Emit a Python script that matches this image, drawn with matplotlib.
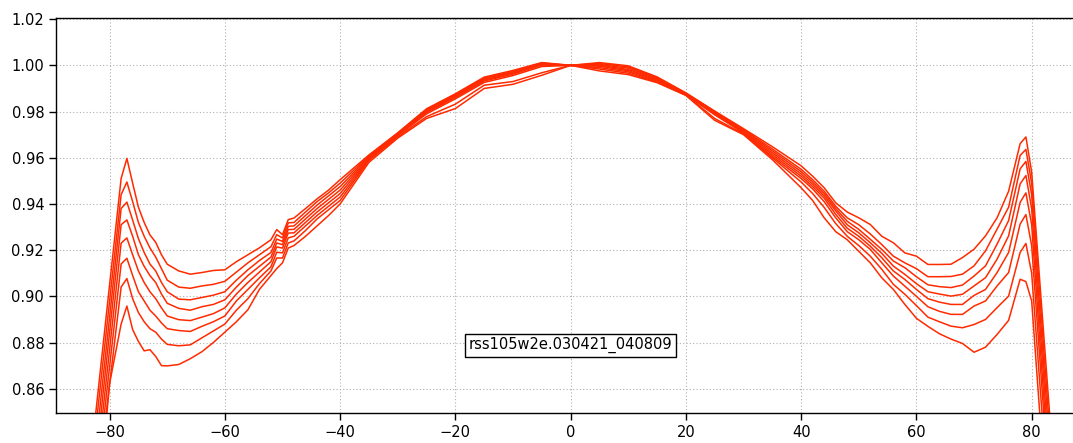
import matplotlib
matplotlib.use('Agg')
import matplotlib.pyplot as plt

# angle grid (deg)
x = [-84, -80, -78, -77, -76, -75, -74, -73, -72, -71, -70, -68, -66, -64, -62, -60,
     -58, -56, -54, -52, -51, -50, -49, -48, -46, -44, -42, -40,
     -35, -30, -25, -20, -15, -10, -5, 0, 5, 10, 15, 20, 25, 30, 35,
     40, 42, 44, 46, 48, 50, 52, 54, 56, 58, 60, 62, 64, 66, 68, 70, 72, 74, 76, 78, 79, 80, 84]

c0 = [0.8125, 0.905, 0.951, 0.9597, 0.949, 0.9386, 0.932, 0.9266, 0.9234, 0.918, 0.9139, 0.911, 0.9096, 0.9103, 0.9112, 0.9115,
      0.915, 0.918, 0.921, 0.9245, 0.9289, 0.9267, 0.9332, 0.9339, 0.938, 0.9422, 0.946, 0.9505,
      0.9612, 0.9708, 0.9812, 0.9877, 0.9949, 0.9978, 1.0012, 1.0, 1.0012, 0.9998, 0.995, 0.9881, 0.9802, 0.9726, 0.9648,
      0.9565, 0.952, 0.947, 0.9405, 0.9365, 0.934, 0.9311, 0.926, 0.9232, 0.9188, 0.9174, 0.9138, 0.9138, 0.9139, 0.9168, 0.9204, 0.9262, 0.934, 0.9455, 0.9661, 0.969, 0.9538, 0.8194]
c1 = [0.806, 0.898, 0.944, 0.9495, 0.941, 0.932, 0.926, 0.921, 0.917, 0.912, 0.907, 0.904, 0.9035, 0.9045, 0.9052, 0.9065,
      0.9105, 0.9145, 0.918, 0.9215, 0.9267, 0.9253, 0.9318, 0.932, 0.9365, 0.941, 0.9448, 0.949,
      0.9608, 0.9706, 0.9808, 0.9873, 0.9945, 0.9974, 1.001, 1.0, 1.0008, 0.9993, 0.9947, 0.9879, 0.98, 0.9722, 0.9638,
      0.955, 0.9505, 0.9455, 0.939, 0.934, 0.931, 0.927, 0.9224, 0.9174, 0.9145, 0.912, 0.9085, 0.9085, 0.9086, 0.9096, 0.9132, 0.9197, 0.9291, 0.9386, 0.961, 0.9636, 0.949, 0.8118]
c2 = [0.798, 0.891, 0.938, 0.9408, 0.933, 0.925, 0.919, 0.914, 0.911, 0.906, 0.902, 0.8988, 0.8985, 0.8995, 0.9005, 0.902,
      0.907, 0.9115, 0.9155, 0.919, 0.9248, 0.9238, 0.9303, 0.9305, 0.935, 0.9395, 0.9435, 0.9475,
      0.9604, 0.9704, 0.9804, 0.9869, 0.9941, 0.997, 1.0007, 1.0, 1.0004, 0.9988, 0.9943, 0.9877, 0.9797, 0.9718, 0.963,
      0.954, 0.9495, 0.9445, 0.938, 0.9325, 0.929, 0.9247, 0.9203, 0.9153, 0.9124, 0.9085, 0.905, 0.9042, 0.9038, 0.9049, 0.9088, 0.9132, 0.9226, 0.9328, 0.9552, 0.9584, 0.944, 0.804]
c3 = [0.791, 0.8844, 0.931, 0.9331, 0.926, 0.918, 0.913, 0.909, 0.906, 0.901, 0.897, 0.8948, 0.894, 0.8955, 0.8965, 0.8985,
      0.904, 0.909, 0.913, 0.917, 0.9231, 0.9224, 0.9289, 0.929, 0.9335, 0.938, 0.942, 0.946,
      0.96, 0.9701, 0.98, 0.9865, 0.9937, 0.9966, 1.0004, 1.0, 1.0, 0.9982, 0.994, 0.9875, 0.9794, 0.9714, 0.9622,
      0.953, 0.9485, 0.9435, 0.937, 0.931, 0.9275, 0.9232, 0.9186, 0.9131, 0.9095, 0.9055, 0.902, 0.901, 0.9001, 0.9009, 0.9045, 0.9081, 0.9161, 0.9262, 0.9487, 0.9523, 0.938, 0.7964]
c4 = [0.785, 0.877, 0.923, 0.9253, 0.918, 0.911, 0.906, 0.902, 0.899, 0.895, 0.8915, 0.8899, 0.8895, 0.891, 0.8925, 0.895,
      0.901, 0.906, 0.9105, 0.915, 0.9214, 0.9209, 0.9274, 0.9275, 0.932, 0.9365, 0.9405, 0.9445,
      0.9596, 0.9698, 0.9796, 0.9861, 0.9932, 0.9962, 1.0001, 1.0, 0.9996, 0.9977, 0.9936, 0.9873, 0.979, 0.971, 0.9614,
      0.952, 0.9475, 0.9425, 0.9355, 0.9295, 0.926, 0.9217, 0.9167, 0.911, 0.9073, 0.903, 0.899, 0.8975, 0.8965, 0.8965, 0.9004, 0.903, 0.9103, 0.919, 0.9407, 0.9448, 0.931, 0.7894]
c5 = [0.781, 0.8696, 0.914, 0.9165, 0.909, 0.902, 0.898, 0.894, 0.8915, 0.8885, 0.886, 0.8852, 0.8848, 0.887, 0.889, 0.8915,
      0.898, 0.903, 0.908, 0.9128, 0.9191, 0.9188, 0.9253, 0.926, 0.9305, 0.935, 0.939, 0.943,
      0.9592, 0.9695, 0.979, 0.9855, 0.9926, 0.9956, 0.9995, 1.0, 0.999, 0.9972, 0.9932, 0.9872, 0.9786, 0.9707, 0.9606,
      0.951, 0.9465, 0.941, 0.934, 0.928, 0.9245, 0.9203, 0.9145, 0.9088, 0.9044, 0.9, 0.8955, 0.8935, 0.8922, 0.8922, 0.8958, 0.898, 0.9045, 0.9103, 0.9313, 0.9354, 0.922, 0.784]
c6 = [0.778, 0.862, 0.904, 0.9077, 0.899, 0.893, 0.889, 0.886, 0.8845, 0.8815, 0.8792, 0.8786, 0.879, 0.882, 0.885, 0.888,
      0.894, 0.899, 0.9055, 0.911, 0.9166, 0.9166, 0.9231, 0.924, 0.9285, 0.9335, 0.9375, 0.9415,
      0.9588, 0.969, 0.9778, 0.9832, 0.9914, 0.993, 0.9968, 1.0, 0.9984, 0.9966, 0.9928, 0.9871, 0.977, 0.9703, 0.96,
      0.9495, 0.9445, 0.9385, 0.9315, 0.926, 0.922, 0.9174, 0.9117, 0.9052, 0.9009, 0.896, 0.891, 0.889, 0.8871, 0.8864, 0.8878, 0.89, 0.8951, 0.9001, 0.919, 0.9229, 0.91, 0.7756]
c7 = [0.75, 0.8623, 0.888, 0.8958, 0.8856, 0.8805, 0.8764, 0.8769, 0.874, 0.870, 0.8699, 0.8705, 0.873, 0.876, 0.880, 0.8845,
      0.889, 0.8942, 0.903, 0.909, 0.912, 0.9145, 0.9209, 0.922, 0.926, 0.9305, 0.935, 0.940,
      0.958, 0.9685, 0.977, 0.9813, 0.990, 0.9918, 0.9957, 1.0, 0.9976, 0.996, 0.9925, 0.987, 0.9762, 0.970, 0.9592,
      0.947, 0.9415, 0.934, 0.928, 0.9245, 0.9195, 0.9145, 0.908, 0.903, 0.8965, 0.8905, 0.887, 0.8838, 0.8815, 0.8796, 0.8758, 0.878, 0.8835, 0.8896, 0.9074, 0.9064, 0.898, 0.7596]

curves = [c0, c1, c2, c3, c4, c5, c6, c7]
label = 'rss105w2e.030421_040809'

fig = plt.figure(figsize=(10.73, 4.43), dpi=100)
ax = fig.add_axes([56 / 1073, 30 / 443, 1016 / 1073, 395 / 443])

for c in curves:
    ax.plot(x, c, color='#ff2a00', lw=1.1)

ax.set_xlim(-89.3, 87.0)
ax.set_ylim(0.8495, 1.0205)
ax.set_xticks([-80, -60, -40, -20, 0, 20, 40, 60, 80])
ax.set_yticks([0.86, 0.88, 0.90, 0.92, 0.94, 0.96, 0.98, 1.00, 1.02])
ax.set_yticklabels(['%.2f' % v for v in ax.get_yticks()])
ax.grid(True, color='#b0b0b0', linestyle=(0, (1, 2)), lw=0.8)
ax.set_axisbelow(True)
ax.tick_params(direction='out', length=5, width=1, labelsize=10.5, colors='black')
for s in ax.spines.values():
    s.set_linewidth(1)
ax.spines['right'].set_visible(False)

ax.text(0, 0.8788, label, ha='center', va='center', fontsize=10.5,
        bbox=dict(boxstyle='square,pad=0.25', facecolor='white', edgecolor='black', lw=1))

fig.savefig('out.png', dpi=100)
